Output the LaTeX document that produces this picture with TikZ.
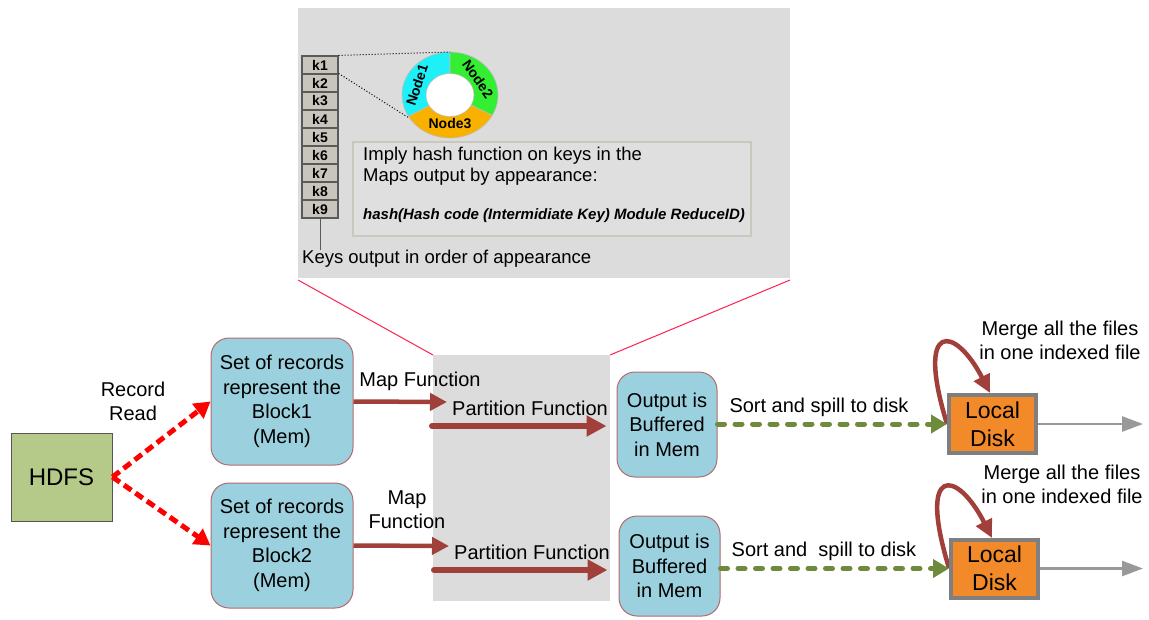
\documentclass[tikz,border=0pt]{standalone}
\usepackage{fontspec}
\setmainfont{Liberation Sans}
\usetikzlibrary{arrows.meta}

\definecolor{panel}{HTML}{DCDCDC}
\definecolor{zoomline}{HTML}{FF2050}
\definecolor{keyfill}{HTML}{C9C5BD}
\definecolor{keyedge}{HTML}{5A5A5A}
\definecolor{ringcyan}{HTML}{1EF0F8}
\definecolor{ringgreen}{HTML}{33EE33}
\definecolor{ringorange}{HTML}{F9B100}
\definecolor{noteedge}{HTML}{C8C8BE}
\definecolor{notefill}{HTML}{DFDFDF}
\definecolor{hdfsgreen}{HTML}{B5CA88}
\definecolor{hdfsedge}{HTML}{555555}
\definecolor{boxblue}{HTML}{9BD0DE}
\definecolor{boxedge}{HTML}{B36B6B}
\definecolor{mapbrown}{HTML}{A1403A}
\definecolor{spillgreen}{HTML}{6E8B3D}
\definecolor{diskorange}{HTML}{F28A2A}
\definecolor{diskedge}{HTML}{7F7F7F}
\definecolor{exitgray}{HTML}{999999}

\begin{document}
\begin{tikzpicture}[x=1pt,y=-1pt,
  lbl/.style={inner sep=0pt, align=center, font=\fontsize{20}{24}\selectfont},
  keybox/.style={draw=keyedge, fill=keyfill, line width=1.2pt, minimum width=36pt,
    minimum height=18pt, inner sep=0pt, font=\bfseries\fontsize{14}{14}\selectfont},
  ringlbl/.style={inner sep=0pt, font=\bfseries\fontsize{14}{14}\selectfont},
  notetext/.style={inner sep=0pt, anchor=west, font=\fontsize{18.5}{18.5}\selectfont},
  bluebox/.style={draw=boxedge, line width=1pt, fill=boxblue, rounded corners=18pt,
    inner sep=0pt, align=center, font=\fontsize{20}{24.5}\selectfont},
  diskbox/.style={draw=diskedge, line width=4pt, fill=diskorange, inner sep=0pt,
    minimum width=87pt, minimum height=58pt, align=center,
    font=\fontsize{23}{28}\selectfont},
  readarrow/.style={draw=red, line width=5pt, dash pattern=on 9pt off 5pt,
    -{Triangle[length=16pt,width=18pt]}},
  maparrow/.style={draw=mapbrown, line width=4.5pt,
    -{Triangle[length=17pt,width=17pt]}},
  partarrow/.style={draw=mapbrown, line width=6pt, line cap=round,
    -{Triangle[length=20pt,width=20pt]}},
  spillarrow/.style={draw=spillgreen, line width=5pt, line cap=round,
    dash pattern=on 7pt off 10.5pt, -{Triangle[length=16pt,width=18pt]}},
  exitarrow/.style={draw=exitgray, line width=2.5pt,
    -{Triangle[length=21pt,width=15pt]}},
  looparrow/.style={draw=mapbrown, line width=4.5pt,
    -{Triangle[length=18pt,width=17pt]}}
]
\useasboundingbox (0,0) rectangle (1149,619);

% grey panels and the zoom guide lines between them
\fill[panel] (298,8) rectangle (790,278);
\fill[panel] (433,355) rectangle (610,601);
\draw[zoomline, line width=1pt] (298,280) -- (433,355);
\draw[zoomline, line width=1pt] (790,280) -- (610,355);

% key list
\foreach \i in {1,...,9}
  \node[keybox] (k\i) at (320,{65+18*(\i-1)}) {k\i};

% hash ring of reducer nodes
\begin{scope}[shift={(450,95)}, x=48pt, y=43pt]
  \filldraw[fill=ringcyan, draw=gray!50, line width=0.6pt]
    (90:1) arc[start angle=90, end angle=210, radius=1]
    -- (210:0.5) arc[start angle=210, end angle=90, radius=0.5] -- cycle;
  \filldraw[fill=ringorange, draw=gray!50, line width=0.6pt]
    (210:1) arc[start angle=210, end angle=332, radius=1]
    -- (332:0.5) arc[start angle=332, end angle=210, radius=0.5] -- cycle;
  \filldraw[fill=ringgreen, draw=gray!50, line width=0.6pt]
    (-28:1) arc[start angle=-28, end angle=90, radius=1]
    -- (90:0.5) arc[start angle=90, end angle=-28, radius=0.5] -- cycle;
  \fill[white] (0,0) circle[radius=0.49];
\end{scope}
\node[ringlbl, rotate=72] (n1) at (417,85) {Node1};
\node[ringlbl, rotate=-55] (n2) at (478,79) {Node2};
\node[ringlbl] (n3) at (450,124) {Node3};

\coordinate (ringtop) at (450,52);
\coordinate (ringsw) at (409,118);
\draw[dotted, line width=1pt] (k1.north east) -- (ringtop);
\draw[dotted, line width=1pt] (k2.north east) -- (ringsw);

% explanation box
\node[draw=noteedge, fill=notefill, line width=1.5pt, minimum width=398pt,
  minimum height=94pt, inner sep=0pt] (note) at (552,189) {};
\node[notetext] (note1) at (363,156) {Imply hash function on keys in the};
\node[notetext] (note2) at (363,177) {Maps output by appearance:};
\node[inner sep=0pt, anchor=west, font=\bfseries\itshape\fontsize{15}{15}\selectfont]
  (note3) at (363,216) {hash(Hash code (Intermidiate Key) Module ReduceID)};

\node[notetext] (keys) at (302,259) {Keys output in order of appearance};
\draw[keyedge, line width=1pt] (k9.south) -- (k9.south |- keys.north);

% main flow
\node[draw=hdfsedge, line width=1pt, fill=hdfsgreen, minimum width=101pt,
  minimum height=88pt, inner sep=0pt, font=\fontsize{24}{24}\selectfont]
  (hdfs) at (61.5,477) {HDFS};
\node[bluebox, minimum width=142pt, minimum height=127pt] (blk1) at (282,401.5)
  {Set of records\\represent the\\Block1\\(Mem)};
\node[bluebox, minimum width=142pt, minimum height=125pt] (blk2) at (282,545.5)
  {Set of records\\represent the\\Block2\\(Mem)};
\node[bluebox, minimum width=100pt, minimum height=105pt] (out1) at (667,424.5)
  {Output is\\Buffered\\in Mem};
\node[bluebox, minimum width=101pt, minimum height=100pt] (out2) at (669.5,566)
  {Output is\\Buffered\\in Mem};

% merge loops run behind the disks
\draw[looparrow] (947,424) .. controls (915,320) and (955,325) .. (990,393);
\draw[looparrow] (949,568) .. controls (917,464) and (957,469) .. (992,538);

\node[diskbox] (disk1) at (992.5,424) {Local\\Disk};
\node[diskbox] (disk2) at (994.5,568.5) {Local\\Disk};

\draw[readarrow] (hdfs.east) -- (blk1.west);
\draw[readarrow] (hdfs.east) -- (blk2.west);

\coordinate (map1end) at (447,402);
\coordinate (map2end) at (449,546);
\draw[maparrow] (blk1.east) -- (map1end);
\draw[maparrow] (blk2.east) -- (map2end);

\coordinate (p1s) at (432,426);
\coordinate (p2s) at (434,570);
\draw[partarrow, shorten >=10pt] (p1s) -- (p1s -| out1.west);
\draw[partarrow, shorten >=11pt] (p2s) -- (p2s -| out2.west);

\draw[spillarrow] (out1.east |- disk1.west) -- (disk1.west);
\draw[spillarrow] (out2.east |- disk2.west) -- (disk2.west);

\coordinate (exit1) at (1143,424);
\coordinate (exit2) at (1143,568.5);
\draw[exitarrow] (disk1.east) -- (exit1);
\draw[exitarrow] (disk2.east) -- (exit2);

% labels
\node[lbl] (recread) at (133,401) {Record\\Read};
\node[lbl] (maplbl1) at (420,381) {Map Function};
\node[lbl] (partlbl1) at (530,408) {Partition Function};
\node[lbl] (maplbl2) at (407,510) {Map\\Function};
\node[lbl] (partlbl2) at (532,552) {Partition Function};
\node[lbl] (spill1) at (819,407) {Sort and spill to disk};
\node[lbl] (spill2) at (824,551) {Sort and\ \ spill to disk};
\node[lbl] (merge1) at (1060,340) {Merge all the files\\in one indexed file};
\node[lbl] (merge2) at (1062,484) {Merge all the files\\in one indexed file};
\end{tikzpicture}
\end{document}
